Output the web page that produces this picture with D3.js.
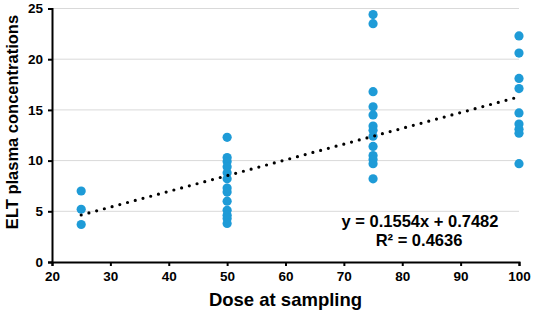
<!DOCTYPE html>
<html>
<head>
<meta charset="utf-8">
<script src="https://cdn.jsdelivr.net/npm/d3@7"></script>
<style>
  body { margin: 0; background: #fff; }
  text { font-family: "Liberation Sans", Arial, sans-serif; font-weight: bold; }
</style>
</head>
<body>
<svg id="chart" width="533" height="315"></svg>
<script>
// 数据：剂量 vs 血浆浓度
const dose25 = [7.0, 5.2, 3.7];
const dose50 = [12.3, 10.3, 9.9, 9.4, 8.8, 8.2, 7.3, 6.9, 6.0, 5.1, 4.6, 4.3, 3.8];
const dose75 = [24.4, 23.5, 16.8, 15.3, 14.5, 13.4, 13.0, 12.4, 11.4, 10.5, 10.1, 9.7, 8.2];
const dose100 = [22.3, 20.6, 18.1, 17.1, 14.7, 13.6, 13.1, 12.7, 9.7];
const doses = [25, 50, 75, 100];
const xTicks = [20, 30, 40, 50, 60, 70, 80, 90, 100];
const yTicks = [0, 5, 10, 15, 20, 25];
const slope = 0.1554, intercept = 0.7482;

const points = [dose25, dose50, dose75, dose100]
  .flatMap((vals, i) => vals.map(v => ({ x: doses[i], y: v })));

const svg = d3.select("#chart");
const x = d3.scaleLinear().domain([20, 100]).range([52, 519]);
const y = d3.scaleLinear().domain([0, 25]).range([262, 8.5]);

// 网格线
svg.append("g")
  .selectAll("line")
  .data(yTicks.filter(d => d > 0))
  .join("line")
  .attr("x1", x(20)).attr("x2", x(100))
  .attr("y1", d => y(d)).attr("y2", d => y(d))
  .attr("stroke", "#d9d9d9")
  .attr("stroke-width", 1);

// 坐标轴
const xAxis = svg.append("g")
  .attr("transform", `translate(0,${y(0)})`)
  .call(d3.axisBottom(x).tickValues(xTicks).tickSize(4).tickPadding(5));
const yAxis = svg.append("g")
  .attr("transform", `translate(${x(20)},0)`)
  .call(d3.axisLeft(y).tickValues(yTicks).tickSize(4).tickPadding(5));

[xAxis, yAxis].forEach(g => {
  g.select(".domain").attr("stroke", "#000").attr("stroke-width", 2);
  g.selectAll(".tick line").attr("stroke", "#000").attr("stroke-width", 2);
  g.selectAll(".tick text")
    .attr("font-size", "13.5px")
    .attr("fill", "#000")
    .attr("font-family", "'Liberation Sans', Arial, sans-serif")
    .attr("font-weight", "bold");
});

// 散点
svg.append("g")
  .selectAll("circle")
  .data(points)
  .join("circle")
  .attr("cx", d => x(d.x))
  .attr("cy", d => y(d.y))
  .attr("r", 4.6)
  .attr("fill", "#1e9bd7");

// 趋势线（点线）
svg.append("line")
  .attr("x1", x(25)).attr("y1", y(slope * 25 + intercept))
  .attr("x2", x(100)).attr("y2", y(slope * 100 + intercept))
  .attr("stroke", "#000")
  .attr("stroke-width", 3.2)
  .attr("stroke-linecap", "round")
  .attr("stroke-dasharray", "0 8");

// 公式
svg.append("text")
  .attr("x", 420).attr("y", 227)
  .attr("text-anchor", "middle")
  .attr("font-size", "16.5px")
  .text("y = 0.1554x + 0.7482");
svg.append("text")
  .attr("x", 419).attr("y", 246)
  .attr("text-anchor", "middle")
  .attr("font-size", "16.5px")
  .text("R² = 0.4636");

// 轴标题
svg.append("text")
  .attr("x", (x(20) + x(100)) / 2).attr("y", 306)
  .attr("text-anchor", "middle")
  .attr("font-size", "18.5px")
  .text("Dose at sampling");
svg.append("text")
  .attr("transform", `translate(12,122) rotate(-90)`)
  .attr("text-anchor", "middle")
  .attr("dy", "0.35em")
  .attr("font-size", "16.5px")
  .text("ELT plasma concentrations");
</script>
</body>
</html>
